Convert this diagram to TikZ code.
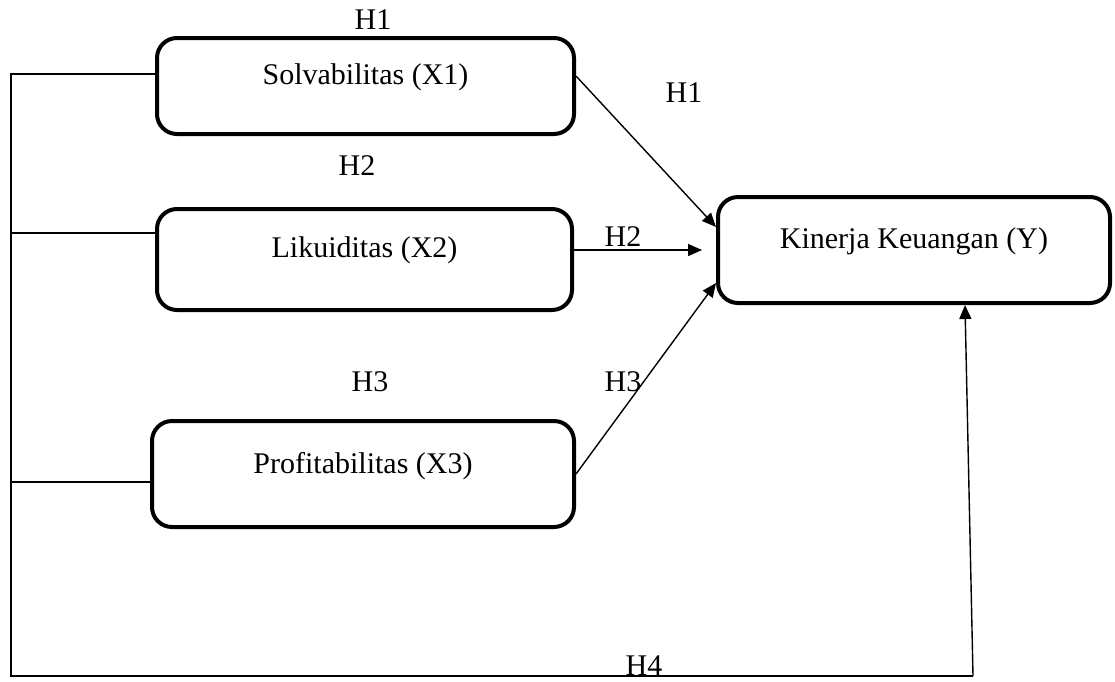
\documentclass[tikz,border=0pt]{standalone}
\usepackage{fontspec}
\setmainfont{Liberation Serif}
\usetikzlibrary{arrows.meta}
\begin{document}
\begin{tikzpicture}[x=1pt,y=-1pt,
  varbox/.style={draw, line width=4pt, rounded corners=20pt, inner sep=0pt, anchor=center},
  lbl/.style={font=\fontsize{30}{36}\selectfont, inner sep=0pt},
  thinline/.style={line width=1.4pt},
  arr/.style={thinline, -{Triangle[length=14pt,width=12pt]}}]
\useasboundingbox (0,0) rectangle (1115,681);
% boxes
\node[varbox, minimum width=417pt, minimum height=96pt] (x1) at (365.5,86) {};
\node[varbox, minimum width=415pt, minimum height=101pt] (x2) at (364.5,259.5) {};
\node[varbox, minimum width=422pt, minimum height=106pt] (x3) at (363,474) {};
\node[varbox, minimum width=392pt, minimum height=106pt] (y) at (914,250) {};
\node[lbl] (tx1) at ([yshift=9pt]x1.center) {Solvabilitas (X1)};
\node[lbl] (tx2) at ([yshift=9pt]x2.center) {Likuiditas (X2)};
\node[lbl] (tx3) at ([yshift=8pt]x3.center) {Profitabilitas (X3)};
\node[lbl] (ty) at ([yshift=9pt]y.center) {Kinerja Keuangan (Y)};
% hypothesis labels
\node[lbl] (h1a) at (373,20) {H1};
\node[lbl] (h1b) at (684,93) {H1};
\node[lbl] (h2a) at (357,166) {H2};
\node[lbl] (h2b) at (623,237) {H2};
\node[lbl] (h3a) at (370,382) {H3};
\node[lbl] (h3b) at (623,382) {H3};
\node[lbl] (h4) at (644,666) {H4};
% left bracket
\coordinate (t1) at (11,74);
\coordinate (t2) at (11,233);
\coordinate (t3) at (11,482);
\coordinate (bl) at (11,676);
\coordinate (br) at (973,676);
\draw[thinline] (x1.west |- t1) -- (t1) -- (bl) -- (br);
\draw[thinline] (t2) -- (x2.west |- t2);
\draw[thinline] (t3) -- (x3.west |- t3);
\draw[arr] (br) -- ([xshift=249pt]y.south west);
% arrows to Y
\draw[arr] ([yshift=10pt]x1.east) -- ([yshift=23pt]y.west);
\draw[arr] (x2.east |- y.west) -- ([xshift=-14pt]y.west);
\draw[arr] (x3.east) -- ([yshift=-33pt]y.west);
\end{tikzpicture}
\end{document}
